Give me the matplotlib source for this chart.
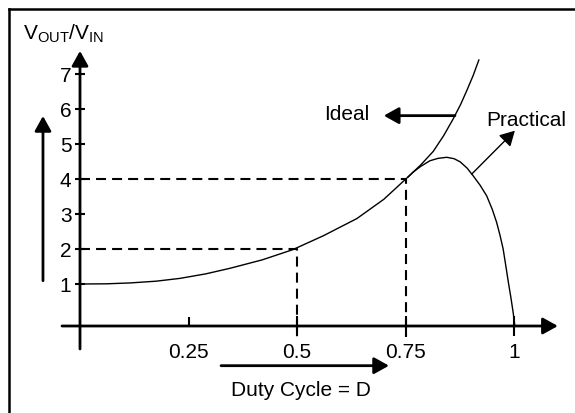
import numpy as np
import matplotlib
matplotlib.use('Agg')
from matplotlib import pyplot as plt
from matplotlib.lines import Line2D

plt.rcParams['font.family'] = ['Liberation Sans', 'DejaVu Sans']

# Ideal curve
ideal_d = [0, 0.06, 0.115, 0.175, 0.23, 0.29, 0.346, 0.42, 0.49, 0.561, 0.638,
           0.70, 0.756, 0.785, 0.814, 0.838, 0.86, 0.877, 0.891, 0.906, 0.919]
ideal_v = [1.0, 1.005, 1.03, 1.08, 1.16, 1.29, 1.45, 1.69, 1.98, 2.38, 2.87,
           3.42, 4.06, 4.40, 4.79, 5.24, 5.72, 6.13, 6.52, 6.96, 7.40]

# Practical curve
prac_d = [0.756, 0.768, 0.785, 0.806, 0.825, 0.845, 0.862, 0.876, 0.892, 0.906,
          0.922, 0.937, 0.950, 0.960, 0.968, 0.975, 0.982, 0.987, 0.993, 0.998, 1.002]
prac_v = [4.06, 4.20, 4.36, 4.52, 4.59, 4.62, 4.58, 4.49, 4.31, 4.09,
          3.82, 3.52, 3.13, 2.76, 2.38, 2.0, 1.45, 1.05, 0.6, 0.19, -0.2]

# dashed guide points
guide_d = [0.5, 0.75]
guide_v = [2, 4]

y_ticks = [1, 2, 3, 4, 5, 6, 7]
x_ticks = [0.5, 0.75, 1]
x_tick_labels = ['0.5', '0.75', '1']

axis_y = -0.2      # where the D axis is drawn
dash_end = -0.51   # bottom of the dashed drops

fig = plt.figure(figsize=(5.75, 4.14), dpi=100)
ax = fig.add_axes([0, 0, 1, 1])
ax.set_xlim(-80 / 434, 495 / 434)
ax.set_ylim(-94 / 35, 320 / 35)

# axes lines with arrow heads
arrow_head = dict(arrowstyle='-|>,head_length=0.9,head_width=0.5', lw=2,
                  color='black', shrinkA=0, shrinkB=0, mutation_scale=10)
ax.annotate('', xy=(0, 7.66), xytext=(0, -0.857), arrowprops=arrow_head)
ax.annotate('', xy=(1.101, axis_y), xytext=(-0.0415, axis_y), arrowprops=arrow_head)

for s in ['top', 'right']:
    ax.spines[s].set_visible(False)
ax.spines['left'].set_position(('data', 0))
ax.spines['bottom'].set_position(('data', axis_y))
ax.spines['left'].set_visible(False)
ax.spines['bottom'].set_visible(False)

ax.set_yticks(y_ticks)
ax.tick_params(axis='y', direction='inout', length=6.5, width=1.5, pad=2.9,
               labelsize=15)
ax.set_xticks(x_ticks, labels=x_tick_labels)
ax.tick_params(axis='x', which='major', direction='inout', length=14.4, width=1.5,
               pad=4.3, labelsize=15)
ax.set_xticks([0.25], labels=['0.25'], minor=True)
ax.tick_params(axis='x', which='minor', direction='in', length=6.5, width=1.5,
               pad=11.5, labelsize=15)

# dashed guides
for d, v in zip(guide_d, guide_v):
    ax.plot([0, d, d], [v, v, dash_end], color='black', lw=1.5,
            ls=(0, (4.8, 2.9)))

# curves
ax.plot(ideal_d, ideal_v, color='black', lw=1)
ax.plot(prac_d, prac_v, color='black', lw=1)

# labels and pointer arrows
ax.text(-0.132, 8.02, r'$\mathregular{V_{OUT}/V_{IN}}$', fontsize=15,
        ha='left', va='baseline')
ax.annotate('', xy=(-0.0853, 5.8), xytext=(-0.0853, 1.094), arrowprops=arrow_head)

ax.text(0.615, 5.86, 'Ideal', fontsize=15, ha='center', va='center')
ax.annotate('', xy=(0.700, 5.81), xytext=(0.864, 5.81), arrowprops=arrow_head)

ax.text(1.028, 5.71, 'Practical', fontsize=15, ha='center', va='center')
thin_head = dict(arrow_head, lw=1)
ax.annotate('', xy=(1.002, 5.38), xytext=(0.9025, 4.14), arrowprops=thin_head)

ax.text(0.508, -2.02, 'Duty Cycle = D', fontsize=15, ha='center', va='center')
ax.annotate('', xy=(0.712, -1.334), xytext=(0.325, -1.334), arrowprops=arrow_head)

# outer frame (left and top edges)
fig.add_artist(Line2D([0.0148, 0.0148], [0, 0.977], transform=fig.transFigure,
                      color='black', lw=1.8, solid_capstyle='projecting'))
fig.add_artist(Line2D([0.0148, 1], [0.977, 0.977], transform=fig.transFigure,
                      color='black', lw=1.8, solid_capstyle='projecting'))

fig.savefig('out.png', dpi=100)
